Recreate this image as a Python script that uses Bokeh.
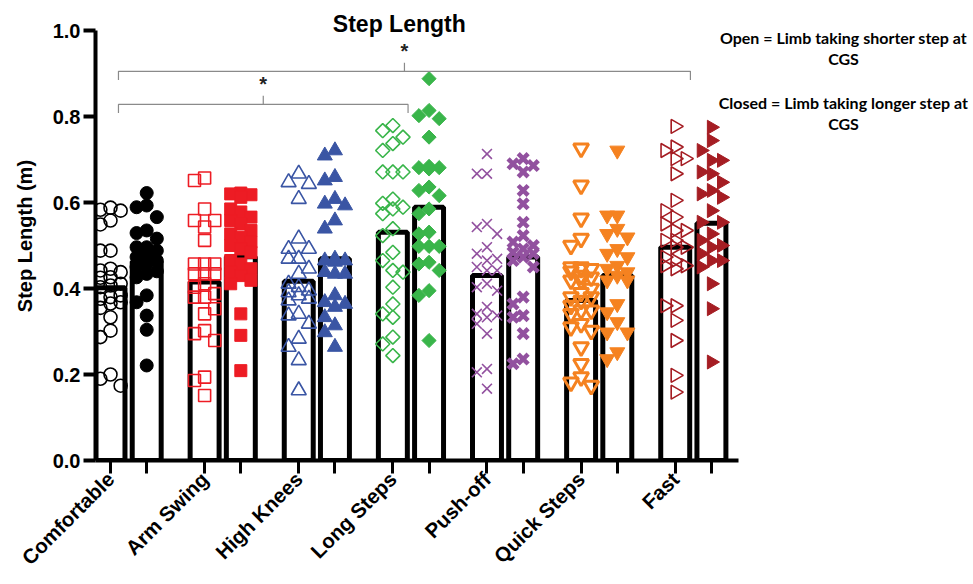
import numpy as np
from bokeh.plotting import figure
from bokeh.models import Range1d, FixedTicker, Label, PrintfTickFormatter
from bokeh.embed import file_html
from bokeh.resources import INLINE

# ---------------- data ----------------
conditions = ["Comfortable", "Arm Swing", "High Knees", "Long Steps",
              "Push-off", "Quick Steps", "Fast"]
mean_open = [0.402, 0.415, 0.417, 0.531, 0.430, 0.372, 0.496]
mean_closed = [0.463, 0.474, 0.469, 0.589, 0.473, 0.430, 0.552]

comfortable_open = [0.588, 0.583, 0.581, 0.558, 0.549, 0.488, 0.488, 0.446, 0.442, 0.438,
                    0.426, 0.425, 0.411, 0.407, 0.403, 0.384, 0.380, 0.376, 0.368, 0.365,
                    0.355, 0.333, 0.302, 0.287, 0.200, 0.190, 0.174]
comfortable_closed = [0.622, 0.593, 0.589, 0.566, 0.535, 0.529, 0.516, 0.496, 0.496, 0.488,
                      0.480, 0.473, 0.465, 0.457, 0.450, 0.440, 0.434, 0.426, 0.384, 0.368,
                      0.337, 0.304, 0.221]
arm_open = [0.657, 0.651, 0.585, 0.558, 0.558, 0.543, 0.512, 0.457, 0.457, 0.457, 0.434,
            0.434, 0.434, 0.411, 0.403, 0.388, 0.380, 0.380, 0.353, 0.341, 0.302, 0.295,
            0.279, 0.194, 0.186, 0.151]
arm_closed = [0.622, 0.620, 0.618, 0.612, 0.585, 0.578, 0.566, 0.558, 0.550, 0.535, 0.527,
              0.519, 0.508, 0.500, 0.492, 0.484, 0.465, 0.457, 0.446, 0.438, 0.430, 0.419,
              0.411, 0.341, 0.291, 0.209]
knees_open = [0.667, 0.647, 0.643, 0.608, 0.516, 0.492, 0.492, 0.469, 0.469, 0.446, 0.434,
              0.411, 0.403, 0.395, 0.391, 0.384, 0.376, 0.372, 0.341, 0.337, 0.318, 0.283,
              0.264, 0.233, 0.163]
knees_closed = [0.721, 0.709, 0.659, 0.651, 0.608, 0.597, 0.593, 0.558, 0.539, 0.469, 0.465,
                0.465, 0.462, 0.438, 0.434, 0.434, 0.384, 0.368, 0.364, 0.357, 0.333, 0.314,
                0.298, 0.264]
long_open = [0.779, 0.767, 0.752, 0.737, 0.721, 0.671, 0.671, 0.671, 0.608, 0.598, 0.589,
             0.585, 0.574, 0.539, 0.523, 0.484, 0.465, 0.442, 0.438, 0.403, 0.364, 0.341,
             0.333, 0.287, 0.271, 0.244]
long_closed = [0.888, 0.814, 0.802, 0.795, 0.752, 0.684, 0.681, 0.681, 0.678, 0.636, 0.628,
               0.616, 0.585, 0.574, 0.531, 0.527, 0.498, 0.498, 0.498, 0.461, 0.457, 0.442,
               0.395, 0.384, 0.279]
push_open = [0.713, 0.667, 0.667, 0.550, 0.543, 0.527, 0.496, 0.481, 0.469, 0.465, 0.450,
             0.442, 0.442, 0.411, 0.403, 0.395, 0.357, 0.341, 0.337, 0.333, 0.318, 0.295,
             0.213, 0.205, 0.167]
push_closed = [0.702, 0.690, 0.686, 0.671, 0.628, 0.597, 0.554, 0.523, 0.508, 0.500, 0.492,
               0.484, 0.481, 0.473, 0.465, 0.450, 0.380, 0.364, 0.337, 0.333, 0.295, 0.236,
               0.225]
quick_open = [0.726, 0.640, 0.563, 0.516, 0.500, 0.450, 0.450, 0.446, 0.446, 0.440, 0.430,
              0.426, 0.419, 0.419, 0.400, 0.390, 0.380, 0.380, 0.372, 0.360, 0.349, 0.349,
              0.341, 0.318, 0.310, 0.302, 0.264, 0.225, 0.194, 0.182, 0.174]
quick_closed = [0.721, 0.570, 0.570, 0.539, 0.527, 0.519, 0.492, 0.481, 0.473, 0.453, 0.446,
                0.438, 0.430, 0.419, 0.419, 0.364, 0.345, 0.322, 0.298, 0.298, 0.252, 0.236]
fast_open = [0.777, 0.729, 0.721, 0.702, 0.702, 0.667, 0.605, 0.581, 0.566, 0.550, 0.535,
             0.535, 0.512, 0.512, 0.496, 0.496, 0.473, 0.465, 0.453, 0.453, 0.446, 0.360,
             0.360, 0.326, 0.279, 0.198, 0.159]
fast_closed = [0.775, 0.744, 0.721, 0.698, 0.698, 0.671, 0.667, 0.647, 0.628, 0.620, 0.612,
               0.581, 0.554, 0.554, 0.527, 0.512, 0.500, 0.496, 0.481, 0.465, 0.465, 0.450,
               0.411, 0.353, 0.229]

open_points = [comfortable_open, arm_open, knees_open, long_open, push_open, quick_open, fast_open]
closed_points = [comfortable_closed, arm_closed, knees_closed, long_closed, push_closed,
                 quick_closed, fast_closed]

colors = ["#000000", "#ED1C24", "#3A55A4", "#39B54A", "#92519F", "#F58220", "#A51D23"]
y_ticks = [0.0, 0.2, 0.4, 0.6, 0.8, 1.0]
comparisons = [("Comfortable", "Long Steps"), ("Comfortable", "Fast")]

# ---------------- layout helpers ----------------
GROUP_STEP = 2.6
PX_PER_UNIT = 36.2
open_x = [round(i * GROUP_STEP, 2) for i in range(len(conditions))]
closed_x = [round(i * GROUP_STEP + 1, 2) for i in range(len(conditions))]

x_start = -15 / PX_PER_UNIT
x_axis_end = 628 / PX_PER_UNIT
x_end = 863 / PX_PER_UNIT
y_end = 460 / 430
FONT = "Arial"


def swarm(vals, d=0.28, thr=0.029):
    placed = []
    offs = []
    for v in vals:
        best = None
        for c in (0, -1, 1):
            if not any(pc == c and abs(pv - v) < thr for pc, pv in placed):
                best = c
                break
        if best is None:
            scores = {}
            for c in (0, -1, 1):
                ds = [abs(pv - v) for pc, pv in placed if pc == c]
                scores[c] = min(ds) if ds else 1
            best = max(scores, key=scores.get)
        placed.append((best, v))
        offs.append(best * d)
    return offs


p = figure(width=973, height=584, output_backend="svg", toolbar_location=None,
           x_range=Range1d(x_start, x_end), y_range=Range1d(0, y_end),
           min_border_left=95, min_border_right=0, min_border_top=0, min_border_bottom=124,
           title=None)
p.outline_line_color = None
p.grid.visible = False
p.background_fill_color = "white"
p.border_fill_color = "white"

# bars
bar_x = open_x + closed_x
bar_top = mean_open + mean_closed
p.vbar(x=bar_x, top=bar_top, bottom=0, width=0.8, fill_color="white",
       line_color="black", line_width=5)

# scatter points
PI = np.pi
styles = [
    dict(marker="circle", size=13, angle=0),
    dict(marker="square", size=12, angle=0),
    dict(marker="triangle", size=15, angle=0),
    dict(marker="square", size=10, angle=PI / 4),
    dict(marker="x", size=14, angle=0),
    dict(marker="inverted_triangle", size=15, angle=0),
    dict(marker="triangle", size=14, angle=-PI / 2),
]
for i, cond in enumerate(conditions):
    col = colors[i]
    st = styles[i]
    for pts, cx, is_open in ((open_points[i], open_x[i], True), (closed_points[i], closed_x[i], False)):
        offs = swarm(pts)
        xs = [cx + o for o in offs]
        if st["marker"] == "x":
            p.scatter(xs, pts, marker="x", size=st["size"], line_color=col,
                      line_width=1.6 if is_open else 4.5)
        elif is_open:
            lw = 3 if i == 5 else 1.6
            p.scatter(xs, pts, marker=st["marker"], size=st["size"], angle=st["angle"],
                      line_color=col, fill_alpha=0, line_width=lw)
        else:
            p.scatter(xs, pts, marker=st["marker"], size=st["size"], angle=st["angle"],
                      line_color=col, fill_color=col, line_width=1)

# significance brackets
levels = [0.828, 0.905]
for (a, b), lev in zip(comparisons, levels):
    xa = open_x[conditions.index(a)] + 0.22
    xb = open_x[conditions.index(b)] + 0.42
    drop = 0.02
    p.line([xa, xa, xb, xb], [lev - drop, lev, lev, lev - drop], line_color="#8a8a8a", line_width=1.2)
    xm = (xa + xb) / 2
    p.line([xm, xm], [lev, lev + drop], line_color="#8a8a8a", line_width=1.2)
    p.add_layout(Label(x=xm, y=lev + 0.047, text="*", text_align="center", text_baseline="middle",
                       text_font=FONT, text_font_style="bold", text_font_size="20px",
                       text_color="#222222"))

# title
p.add_layout(Label(x=(402 - 110) / PX_PER_UNIT, y=1.016, text="Step  Length", text_align="center",
                   text_baseline="middle", text_font=FONT, text_font_style="bold",
                   text_font_size="23px", text_color="black"))

# side notes
notes = [("Open = Limb taking shorter step at", 0.984), ("CGS", 0.935),
         ("Closed = Limb taking longer step at", 0.833), ("CGS", 0.784)]
for txt, yy in notes:
    p.add_layout(Label(x=(843 - 110) / PX_PER_UNIT, y=yy, text=txt, text_align="center",
                       text_baseline="middle", text_font="Lato", text_font_style="bold",
                       text_font_size="16px", text_color="black"))

# axes
yax = p.yaxis[0]
yax.ticker = FixedTicker(ticks=y_ticks)
yax.formatter = PrintfTickFormatter(format="%.1f")
yax.bounds = (0, 1.0)
yax.axis_line_width = 4
yax.axis_line_color = "black"
yax.major_tick_line_width = 4
yax.major_tick_line_color = "black"
yax.major_tick_out = 12
yax.major_tick_in = 0
yax.minor_tick_line_color = None
yax.major_label_text_font = FONT
yax.major_label_text_font_style = "bold"
yax.major_label_text_font_size = "20px"
yax.major_label_text_color = "black"
yax.major_label_standoff = 3
yax.axis_label = "Step  Length  (m)"
yax.axis_label_text_font = FONT
yax.axis_label_text_font_style = "bold"
yax.axis_label_text_font_size = "20px"
yax.axis_label_text_color = "black"
yax.axis_label_standoff = 14

xax = p.xaxis[0]
xax.ticker = FixedTicker(ticks=bar_x)
xax.bounds = (x_start, x_axis_end)
overrides = {}
for i, c in enumerate(conditions):
    overrides[open_x[i]] = c
    overrides[closed_x[i]] = ""
xax.major_label_overrides = overrides
xax.axis_line_width = 4
xax.axis_line_color = "black"
xax.major_tick_line_width = 3
xax.major_tick_line_color = "black"
xax.major_tick_out = 13
xax.major_tick_in = 0
xax.minor_tick_line_color = None
xax.major_label_orientation = PI / 4
xax.major_label_text_font = FONT
xax.major_label_text_font_style = "bold"
xax.major_label_text_font_size = "20.5px"
xax.major_label_text_color = "black"
xax.major_label_standoff = 2

open("out.html", "w").write(file_html(p, INLINE))
